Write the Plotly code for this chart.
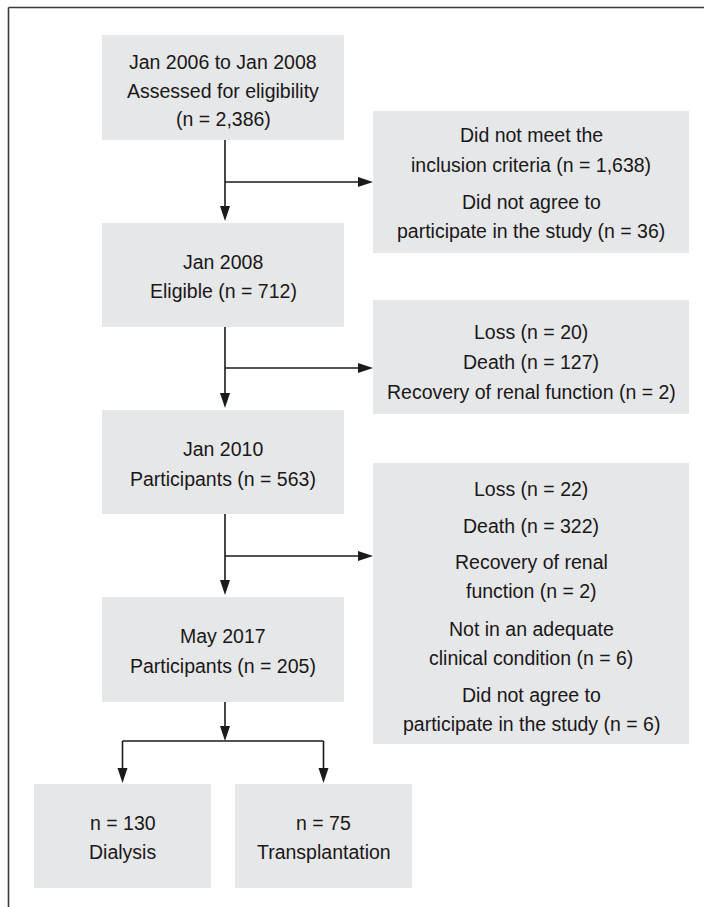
import plotly.graph_objects as go

# ---------------- data ----------------
periods = ["Jan 2006 to Jan 2008", "Jan 2008", "Jan 2010", "May 2017"]
stage_labels = ["Assessed for eligibility", "Eligible", "Participants", "Participants"]
stage_n = ["2,386", "712", "563", "205"]

excl1_lines = ["Did not meet the", "inclusion criteria (n = 1,638)",
               "Did not agree to", "participate in the study (n = 36)"]
excl2_lines = ["Loss (n = 20)", "Death (n = 127)", "Recovery of renal function (n = 2)"]
excl3_lines = ["Loss (n = 22)", "Death (n = 322)", "Recovery of renal", "function (n = 2)",
               "Not in an adequate", "clinical condition (n = 6)",
               "Did not agree to", "participate in the study (n = 6)"]

outcome_n = ["130", "75"]
outcome_labels = ["Dialysis", "Transplantation"]

# ---------------- layout ----------------
W, H = 704, 907
FILL = "#e6e7e8"
TXT = "#1a1718"
LINE = "#1a1a1a"
FONT = "Liberation Sans, Arial, sans-serif"
FS = 19.5

main_texts = [
    [periods[0], stage_labels[0], f"(n = {stage_n[0]})"],
    [periods[1], f"{stage_labels[1]} (n = {stage_n[1]})"],
    [periods[2], f"{stage_labels[2]} (n = {stage_n[2]})"],
    [periods[3], f"{stage_labels[3]} (n = {stage_n[3]})"],
]
main_boxes = [(102, 344, 35, 140), (102, 344, 223, 327), (102, 344, 410, 514), (102, 344, 597, 702)]
main_ys = [[62, 91, 119], [262, 291], [449, 479], [636, 666]]

side_texts = [excl1_lines, excl2_lines, excl3_lines]
side_boxes = [(373, 689, 111, 253), (373, 689, 300, 414), (373, 689, 463, 744)]
side_ys = [[135, 165, 202, 231], [332, 362, 392],
           [489, 526, 562, 591, 629, 658, 695, 724]]
side_arrow_y = [182, 368, 556]

out_texts = [[f"n = {outcome_n[i]}", outcome_labels[i]] for i in range(2)]
out_boxes = [(34, 211, 784, 888), (235, 412, 784, 888)]
out_ys = [[823, 852], [823, 852]]

shapes = []
annotations = []


def add_box(box, lines, ys):
    x0, x1, y0, y1 = box
    shapes.append(dict(type="rect", xref="x", yref="y", x0=x0, x1=x1, y0=y0, y1=y1,
                       fillcolor=FILL, line=dict(width=0), layer="below"))
    for t, y in zip(lines, ys):
        annotations.append(dict(x=(x0 + x1) / 2, y=y, xref="x", yref="y", text=t,
                                showarrow=False, xanchor="center", yanchor="middle",
                                font=dict(family=FONT, size=FS, color=TXT)))


def line(x0, y0, x1, y1):
    shapes.append(dict(type="line", xref="x", yref="y", x0=x0, y0=y0, x1=x1, y1=y1,
                       line=dict(color=LINE, width=1.6)))


AH_L, AH_W = 15, 5


def head_down(x, ytip):
    shapes.append(dict(type="path", xref="x", yref="y",
                       path=f"M {x - AH_W} {ytip - AH_L} L {x + AH_W} {ytip - AH_L} L {x} {ytip} Z",
                       fillcolor=LINE, line=dict(width=0)))


def head_right(xtip, y):
    shapes.append(dict(type="path", xref="x", yref="y",
                       path=f"M {xtip - AH_L} {y - AH_W} L {xtip - AH_L} {y + AH_W} L {xtip} {y} Z",
                       fillcolor=LINE, line=dict(width=0)))


for b, t, ys in zip(main_boxes, main_texts, main_ys):
    add_box(b, t, ys)
for b, t, ys in zip(side_boxes, side_texts, side_ys):
    add_box(b, t, ys)
for b, t, ys in zip(out_boxes, out_texts, out_ys):
    add_box(b, t, ys)

cx = (main_boxes[0][0] + main_boxes[0][1]) / 2 + 2
# vertical arrows between main boxes, with side branches
for i in range(3):
    ytop = main_boxes[i][3]
    ybot = main_boxes[i + 1][2] - 2
    line(cx, ytop, cx, ybot - 8)
    head_down(cx, ybot)
    ya = side_arrow_y[i]
    xt = side_boxes[i][0]
    line(cx, ya, xt - 8, ya)
    head_right(xt, ya)

# split to outcomes
ysplit = 741
line(cx, main_boxes[3][3], cx, ysplit - 8)
head_down(cx, ysplit)
oc = [(b[0] + b[1]) / 2 for b in out_boxes]
line(oc[0], ysplit, oc[1], ysplit)
for x in oc:
    line(x, ysplit, x, out_boxes[0][2] - 9)
    head_down(x, out_boxes[0][2] - 1)

# outer frame (top and left edges)
shapes.append(dict(type="line", xref="x", yref="y", x0=8.5, y0=7.5, x1=W + 5, y1=7.5,
                   line=dict(color="#3a3a3a", width=1.6)))
shapes.append(dict(type="line", xref="x", yref="y", x0=8.5, y0=7.5, x1=8.5, y1=H + 5,
                   line=dict(color="#3a3a3a", width=1.6)))

fig = go.Figure()
fig.update_layout(
    width=W, height=H,
    margin=dict(l=0, r=0, t=0, b=0),
    paper_bgcolor="white", plot_bgcolor="white",
    xaxis=dict(range=[0, W], visible=False, fixedrange=True),
    yaxis=dict(range=[H, 0], visible=False, fixedrange=True),
    shapes=shapes, annotations=annotations, showlegend=False,
)
fig.write_html("out.html", config={"displayModeBar": False},
               post_script="document.body.style.margin='0';document.body.style.overflow='hidden';")
